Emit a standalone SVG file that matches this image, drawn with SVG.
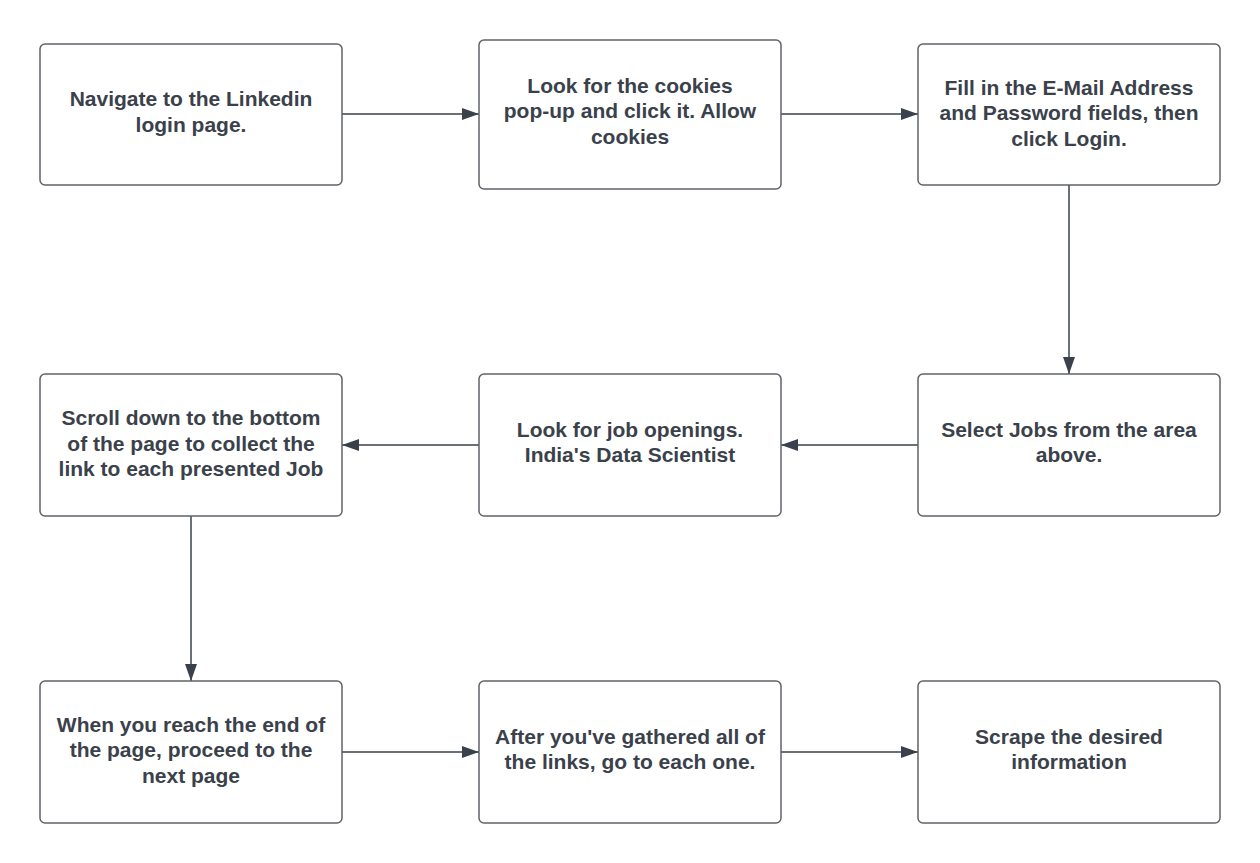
<svg xmlns="http://www.w3.org/2000/svg" width="1260" height="863" viewBox="0 0 1260 863">
  <style>
    .box { fill: #ffffff; stroke: #5f6368; stroke-width: 1.5; }
    .lbl { font-family: "Liberation Sans", Arial, sans-serif; font-weight: bold; font-size: 21px; fill: #3a414a; text-anchor: middle; }
    .conn { stroke: #3a414a; stroke-width: 1.5; fill: none; }
  </style>
  <defs>
    <marker id="arrow" markerUnits="userSpaceOnUse" markerWidth="18" markerHeight="12" refX="17" refY="6" orient="auto">
      <path d="M0,0 L17,6 L0,12 Z" fill="#3a414a"/>
    </marker>
  </defs>
  <rect width="1260" height="863" fill="#ffffff"/>

  <g id="connectors">
    <line class="conn" x1="342" y1="114" x2="479" y2="114" marker-end="url(#arrow)"/>
    <line class="conn" x1="781" y1="114" x2="918" y2="114" marker-end="url(#arrow)"/>
    <line class="conn" x1="1069" y1="185" x2="1069" y2="374" marker-end="url(#arrow)"/>
    <line class="conn" x1="918" y1="445" x2="781" y2="445" marker-end="url(#arrow)"/>
    <line class="conn" x1="479" y1="445" x2="342" y2="445" marker-end="url(#arrow)"/>
    <line class="conn" x1="191" y1="516" x2="191" y2="681" marker-end="url(#arrow)"/>
    <line class="conn" x1="342" y1="752" x2="479" y2="752" marker-end="url(#arrow)"/>
    <line class="conn" x1="781" y1="752" x2="918" y2="752" marker-end="url(#arrow)"/>
  </g>

  <g id="n1">
    <rect class="box" x="40" y="44" width="302" height="141" rx="5"/>
    <text class="lbl" x="191" y="106">Navigate to the Linkedin</text>
    <text class="lbl" x="191" y="131.5">login page.</text>
  </g>
  <g id="n2">
    <rect class="box" x="479" y="40" width="302" height="149" rx="5"/>
    <text class="lbl" x="630" y="92.5">Look for the cookies</text>
    <text class="lbl" x="630" y="118">pop-up and click it. Allow</text>
    <text class="lbl" x="630" y="143.5">cookies</text>
  </g>
  <g id="n3">
    <rect class="box" x="918" y="44" width="302" height="141" rx="5"/>
    <text class="lbl" x="1069" y="94.5">Fill in the E-Mail Address</text>
    <text class="lbl" x="1069" y="120">and Password fields, then</text>
    <text class="lbl" x="1069" y="145.5">click Login.</text>
  </g>
  <g id="n4">
    <rect class="box" x="918" y="374" width="302" height="142" rx="5"/>
    <text class="lbl" x="1069" y="436.5">Select Jobs from the area</text>
    <text class="lbl" x="1069" y="462">above.</text>
  </g>
  <g id="n5">
    <rect class="box" x="479" y="374" width="302" height="142" rx="5"/>
    <text class="lbl" x="630" y="436.5">Look for job openings.</text>
    <text class="lbl" x="630" y="462">India's Data Scientist</text>
  </g>
  <g id="n6">
    <rect class="box" x="40" y="374" width="302" height="142" rx="5"/>
    <text class="lbl" x="191" y="425">Scroll down to the bottom</text>
    <text class="lbl" x="191" y="450.5">of the page to collect the</text>
    <text class="lbl" x="191" y="476">link to each presented Job</text>
  </g>
  <g id="n7">
    <rect class="box" x="40" y="681" width="302" height="142" rx="5"/>
    <text class="lbl" x="191" y="731.5">When you reach the end of</text>
    <text class="lbl" x="191" y="757">the page, proceed to the</text>
    <text class="lbl" x="191" y="782.5">next page</text>
  </g>
  <g id="n8">
    <rect class="box" x="479" y="681" width="302" height="142" rx="5"/>
    <text class="lbl" x="630" y="743.5">After you've gathered all of</text>
    <text class="lbl" x="630" y="769">the links, go to each one.</text>
  </g>
  <g id="n9">
    <rect class="box" x="918" y="681" width="302" height="142" rx="5"/>
    <text class="lbl" x="1069" y="743.5">Scrape the desired</text>
    <text class="lbl" x="1069" y="769">information</text>
  </g>
</svg>
